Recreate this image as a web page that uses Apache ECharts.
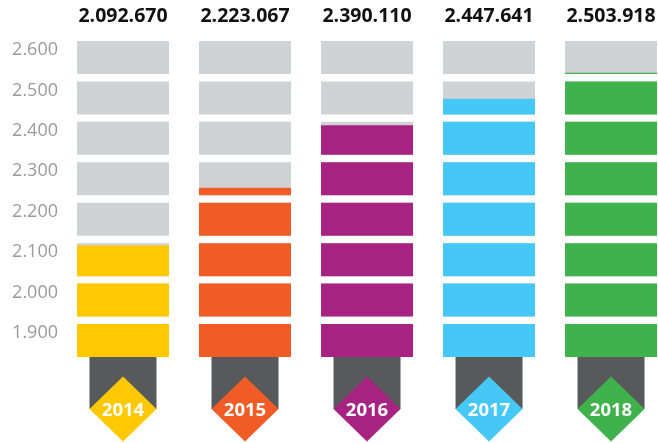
<!DOCTYPE html>
<html>
<head>
<meta charset="utf-8">
<script src="https://cdn.jsdelivr.net/npm/echarts@6/dist/echarts.min.js"></script>
<style>
  html, body { margin: 0; padding: 0; background: #fff; }
  #chart { width: 658px; height: 443px; }
</style>
</head>
<body>
<div id="chart"></div>
<script>
// data
const years = ['2014', '2015', '2016', '2017', '2018']
const totals = [2092670, 2223067, 2390110, 2447641, 2503918]
const tickValues = [1900000, 2000000, 2100000, 2200000, 2300000, 2400000, 2500000, 2600000]

const yearColors = ['#FEC901', '#F15B25', '#A72382', '#45C8F5', '#40B24B']
const STEP = 100000

const fmt = v => String(v).replace(/\B(?=(\d{3})+(?!\d))/g, '.')

function renderColumn(params, api) {
    const i = api.value(0)
    const total = api.value(1)
    const cx = api.coord([i, tickValues[0]])[0]
    const barW = api.size([1, 0])[0] * 92 / 122
    const children = []

    // each segment: block spans a bit below the label value up to a bit above
    tickValues.forEach(tv => {
        const lo = tv - STEP * 0.5936
        const hi = tv + STEP * 0.2226
        const yTop = api.coord([i, hi])[1]
        const yBot = api.coord([i, lo])[1]
        children.push({
            type: 'rect',
            shape: { x: cx - barW / 2, y: yTop, width: barW, height: yBot - yTop },
            style: { fill: '#D1D2D4' }
        })
        const f = Math.max(0, Math.min(1, (total - (tv - STEP)) / STEP))
        if (f > 0) {
            const yFill = api.coord([i, lo + f * (hi - lo)])[1]
            children.push({
                type: 'rect',
                shape: { x: cx - barW / 2, y: yFill, width: barW, height: yBot - yFill },
                style: { fill: yearColors[i] }
            })
        }
    })

    const base = api.coord([i, tickValues[0] - STEP * 0.5936])[1]
    const dy = base + 52
    children.push({
        type: 'rect',
        shape: { x: cx - 33.5, y: base, width: 67, height: dy - base },
        style: { fill: '#58595B' }
    })
    children.push({
        type: 'polygon',
        shape: { points: [[cx, dy - 32.5], [cx + 33.5, dy], [cx, dy + 32.5], [cx - 33.5, dy]] },
        style: { fill: yearColors[i] }
    })
    children.push({
        type: 'text',
        style: {
            x: cx, y: dy + 2, text: years[i], fill: '#fff',
            font: 'bold 18.5px "Open Sans"', align: 'center', verticalAlign: 'middle'
        }
    })

    const topY = api.coord([i, 2700000])[1] + 7
    children.push({
        type: 'text',
        style: {
            x: cx, y: topY, text: fmt(total), fill: '#111',
            font: 'bold 19.5px "Open Sans"', align: 'center', verticalAlign: 'middle'
        }
    })

    return { type: 'group', children }
}

const chart = echarts.init(document.getElementById('chart'))
chart.setOption({
    animation: false,
    grid: { left: 62, right: 0, top: 9.6, bottom: 69.6 },
    xAxis: { type: 'value', min: -0.5, max: 4.385, show: false },
    yAxis: {
        type: 'value',
        min: 1800000,
        max: 2700000,
        interval: STEP,
        axisLine: { show: false },
        axisTick: { show: false },
        splitLine: { show: false },
        axisLabel: {
            margin: 4,
            color: '#9B9B9B',
            fontSize: 18,
            fontFamily: 'Open Sans',
            formatter: v => (v < 1900000 || v > 2600000) ? '' : (v / 1e6).toFixed(3)
        }
    },
    series: [{
        type: 'custom',
        renderItem: renderColumn,
        clip: false,
        data: years.map((y, i) => [i, totals[i]])
    }]
})
</script>
</body>
</html>
